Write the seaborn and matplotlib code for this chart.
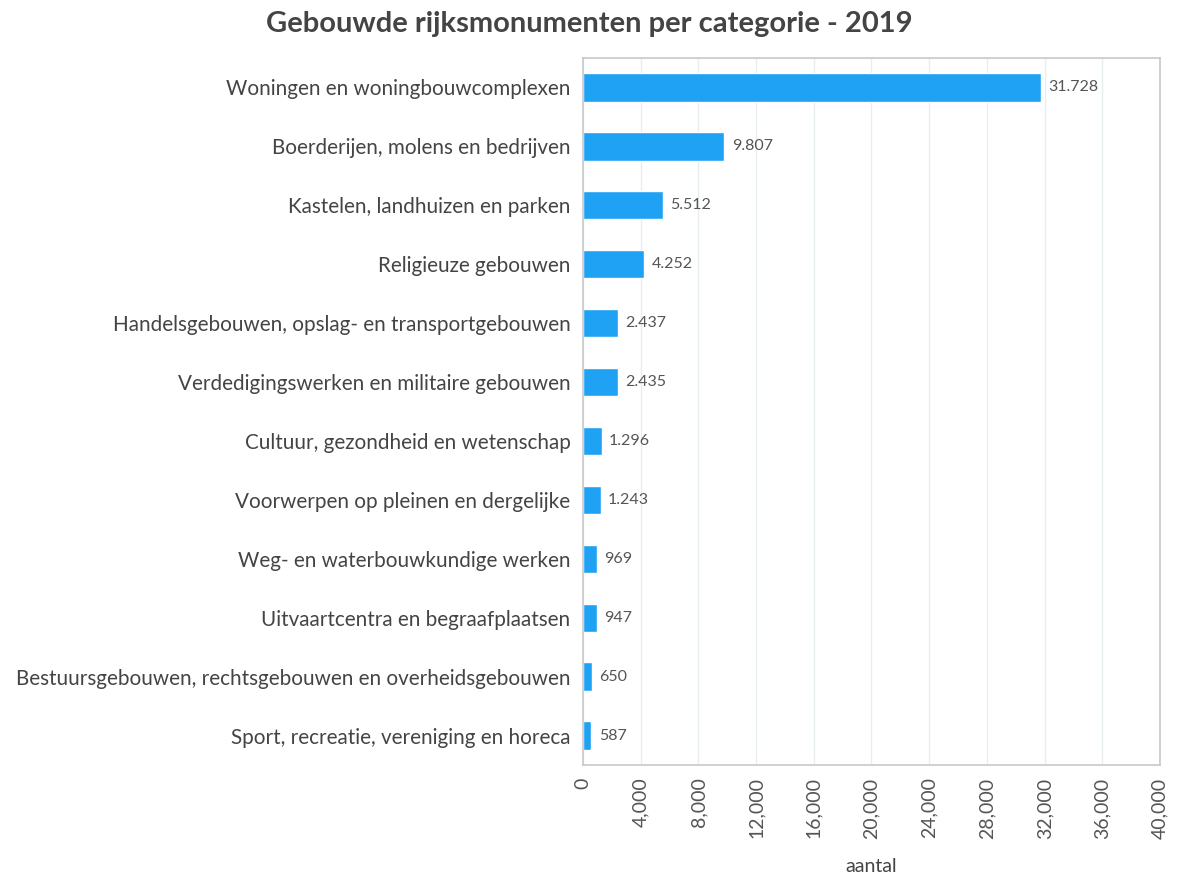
import matplotlib
matplotlib.use("Agg")
import matplotlib.pyplot as plt
import seaborn as sns
import pandas as pd
from matplotlib.ticker import FuncFormatter, MultipleLocator

categories = [
    "Woningen en woningbouwcomplexen",
    "Boerderijen, molens en bedrijven",
    "Kastelen, landhuizen en parken",
    "Religieuze gebouwen",
    "Handelsgebouwen, opslag- en transportgebouwen",
    "Verdedigingswerken en militaire gebouwen",
    "Cultuur, gezondheid en wetenschap",
    "Voorwerpen op pleinen en dergelijke",
    "Weg- en waterbouwkundige werken",
    "Uitvaartcentra en begraafplaatsen",
    "Bestuursgebouwen, rechtsgebouwen en overheidsgebouwen",
    "Sport, recreatie, vereniging en horeca",
]
values = [31728, 9807, 5512, 4252, 2437, 2435, 1296, 1243, 969, 947, 650, 587]

title = "Gebouwde rijksmonumenten per categorie - 2019"
xlabel = "aantal"

df = pd.DataFrame({"categorie": categories, "aantal": values})

sns.set_theme(style="white")
plt.rcParams["font.family"] = ["Lato", "DejaVu Sans"]

fig = plt.figure(figsize=(11.84, 8.82), dpi=100)
ax = fig.add_axes([0.4924, 0.1327, 0.4873, 0.8015])

sns.barplot(data=df, x="aantal", y="categorie", color="#1fa2f4",
            width=0.48, ax=ax, saturation=1)

ax.set_xlim(0, 40000)
ax.xaxis.set_major_locator(MultipleLocator(4000))
ax.xaxis.set_major_formatter(FuncFormatter(lambda v, p: f"{int(v):,}"))
ax.grid(axis="x", color="#e6eef2", linewidth=1)
ax.set_axisbelow(True)
for s in ax.spines.values():
    s.set_color("#c8c8c8")
    s.set_linewidth(1.2)

plt.setp(ax.get_xticklabels(), rotation=90, fontsize=14, color="#555555")
ax.tick_params(axis="y", labelsize=14.9, labelcolor="#444444", pad=9, length=0)
ax.tick_params(axis="x", pad=9, length=0)
ax.set_ylabel("")
ax.set_xlabel(xlabel, fontsize=14, color="#444444", labelpad=14)

for i, v in enumerate(values):
    ax.text(v + 500, i, f"{v:,}".replace(",", "."), va="center", ha="left",
            fontsize=11.5, color="#555555")

fig.suptitle(title, x=0.498, y=0.987, fontsize=21, fontweight="bold",
             color="#444444")

fig.savefig("out.png", dpi=100, facecolor="white")
